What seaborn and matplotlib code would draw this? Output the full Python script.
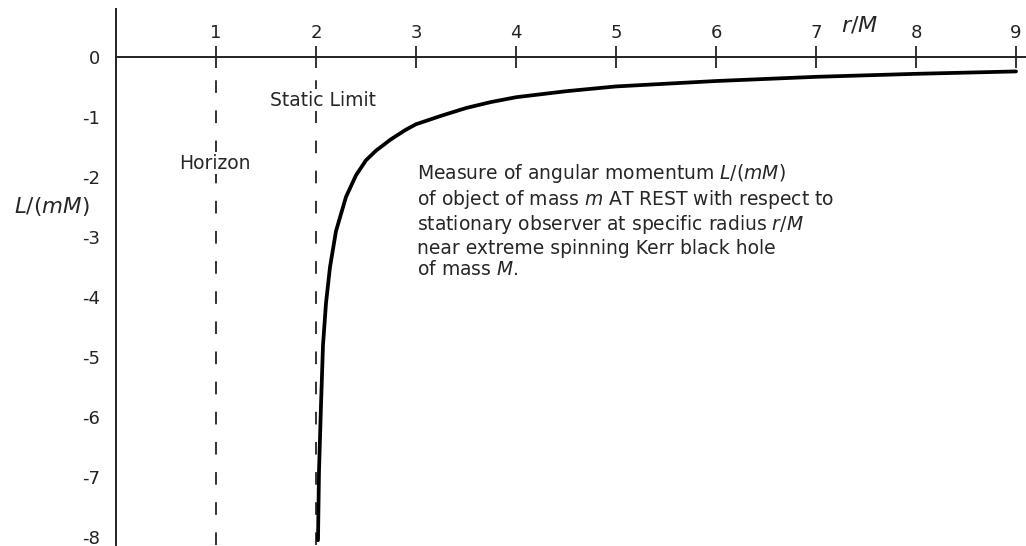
import matplotlib
matplotlib.use("Agg")
import matplotlib.pyplot as plt
import seaborn as sns
import pandas as pd

# data
r_over_M = [2.02, 2.03, 2.05, 2.07, 2.10, 2.14, 2.20, 2.30, 2.40, 2.50,
            2.60, 2.75, 2.90, 3.00, 3.25, 3.50, 3.75, 4.00, 4.50, 5.00,
            6.00, 7.00, 8.00, 9.00]
L_over_mM = [-8.05, -6.9, -5.8, -4.8, -4.1, -3.5, -2.9, -2.33, -1.97, -1.72,
             -1.56, -1.37, -1.21, -1.12, -0.98, -0.85, -0.75, -0.67, -0.57, -0.49,
             -0.40, -0.33, -0.28, -0.24]
x_ticks = [1, 2, 3, 4, 5, 6, 7, 8, 9]
y_ticks = [0, -1, -2, -3, -4, -5, -6, -7, -8]
y_tick_labels = ["0", "-1", "-2", "-3", "-4", "-5", "-6", "-7", "-8"]
horizon_r = 1
static_limit_r = 2

sns.set_style("white")
plt.rcParams["font.family"] = ["DejaVu Sans"]
plt.rcParams["mathtext.fontset"] = "dejavusans"

df = pd.DataFrame({"r": r_over_M, "L": L_over_mM})

fig = plt.figure(figsize=(10.26, 5.46), dpi=100)
ax = fig.add_axes([116 / 1026, 1 / 546, 910 / 1026, 536 / 546])
ax.set_xlim(0, 9.1)
ax.set_ylim(-8.13, 0.8)

sns.lineplot(data=df, x="r", y="L", ax=ax, color="black", linewidth=2.7,
             sort=False, zorder=3)

dash_top = (8.13 - 0.08) / 8.93
for rv in (horizon_r, static_limit_r):
    ax.axvline(rv, ymin=0, ymax=dash_top, color="#333333", linewidth=1.4,
               dashes=(6.5, 9), zorder=1)

# spines
ax.spines["right"].set_visible(False)
ax.spines["bottom"].set_visible(False)
ax.spines["top"].set_position(("data", 0))
ax.spines["left"].set_position(("data", 0))
for s in ("top", "left"):
    ax.spines[s].set_color("#222222")
    ax.spines[s].set_linewidth(1.4)

ax.xaxis.set_ticks_position("top")
ax.set_xticks(x_ticks)
ax.set_xticklabels([str(v) for v in x_ticks])
ax.set_yticks(y_ticks)
ax.set_yticklabels(y_tick_labels)
ax.tick_params(axis="x", direction="inout", length=16, width=1.3, pad=3,
               labelsize=13, colors="#222222")
ax.tick_params(axis="y", direction="inout", length=17, width=1.3, pad=3,
               labelsize=13, colors="#222222")
ax.grid(False)

ax.set_xlabel(r"$r/M$", fontsize=16)
ax.xaxis.set_label_position("top")
ax.xaxis.set_label_coords((860 - 116) / 910, (545 - 25) / 536)
ax.xaxis.label.set_va("center")
ax.set_ylabel(r"$L/(mM)$", fontsize=15.5, rotation=0, va="center", ha="center")
ax.yaxis.set_label_coords((52 - 116) / 910, (545 - 207) / 536)

bbox = dict(facecolor="white", edgecolor="none", pad=1)
ax.text(0.99, (57 - 163) / 60, "Horizon", ha="center", va="center",
        fontsize=13.5, bbox=bbox, zorder=2)
ax.text(2.07, (57 - 100) / 60, "Static Limit", ha="center", va="center",
        fontsize=13.5, bbox=bbox, zorder=2)

ax.text(3.01, (57 - 162) / 60,
        "Measure of angular momentum $L/(mM)$\n"
        "of object of mass $m$ AT REST with respect to\n"
        "stationary observer at specific radius $r/M$\n"
        "near extreme spinning Kerr black hole\n"
        "of mass $M$.",
        ha="left", va="top", fontsize=13.5, linespacing=1.16, zorder=2)

fig.savefig("out.png", dpi=100)
